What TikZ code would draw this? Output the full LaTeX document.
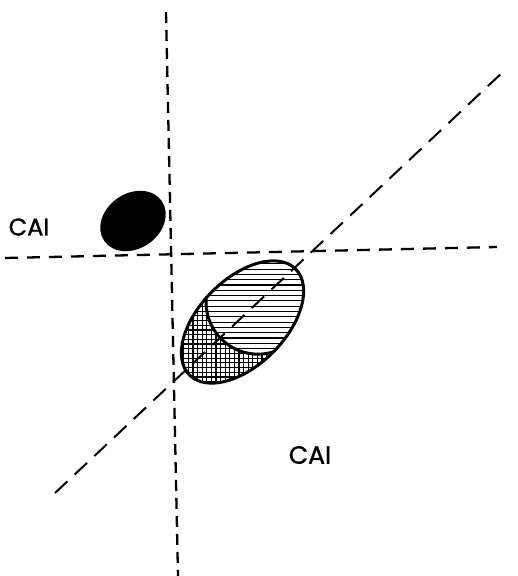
\documentclass[tikz,border=0pt]{standalone}
\usepackage{fontspec}
\setmainfont{Poppins}
\newfontfamily\caifont{Poppins}[FakeBold=1.2]
\begin{document}
\begin{tikzpicture}[x=1pt,y=-1pt,
  axisline/.style={line width=2.3pt,dash pattern=on 11pt off 7pt},
  outline/.style={line width=3pt,line join=round,line cap=round},
  hatch/.style={line width=1.2pt},
  lbl/.style={font=\caifont\fontsize{24}{24}\selectfont,inner sep=0pt}]
\useasboundingbox (0,0) rectangle (518,576);
% axes
\coordinate (vt) at (166,12);
\coordinate (vb) at (178,576);
\coordinate (hl) at (5,258);
\coordinate (hr) at (497,247);
\coordinate (dl) at (55,493);
\coordinate (dr) at (505,70);
\draw[axisline] (vt) -- (vb);
\draw[axisline,dash pattern=on 13pt off 9pt] (hl) -- (hr);
% black blob
\fill[shift={(133,221)},rotate=35] (0,0) ellipse[x radius=35pt,y radius=27.5pt];
\node[lbl] (cai1) at (29,227) {CAI};
\node[lbl,font=\caifont\fontsize{25}{25}\selectfont] (cai2) at (310,455) {CAI};
% cylinder
\def\sil{[shift={(242.5,322)},rotate=45] (0pt,0pt) ellipse[x radius=75pt,y radius=43pt]}
\def\facepath{[shift={(242.5,322)},rotate=45] (25pt,3pt) ellipse[x radius=52pt,y radius=52pt]}
\fill[white] \sil;
\begin{scope}
  \clip \sil;
  \foreach \x in {170,174.6,...,320} \draw[hatch] (\x,250) -- (\x,400);
  \foreach \y in {250,254.7,...,400} \draw[hatch] (160,\y) -- (320,\y);
  \fill[white] \facepath;
  \clip \facepath;
  \foreach \y in {258.5,263.8,...,360} \draw[hatch,line width=1.1pt] (200,\y) -- (320,\y);
\end{scope}
\draw[axisline,dash pattern=on 17pt off 10pt,line width=2pt] (dl) -- (dr);
\begin{scope}
  \clip \sil;
  \draw[outline] \facepath;
\end{scope}
\draw[outline] \sil;
\end{tikzpicture}
\end{document}
